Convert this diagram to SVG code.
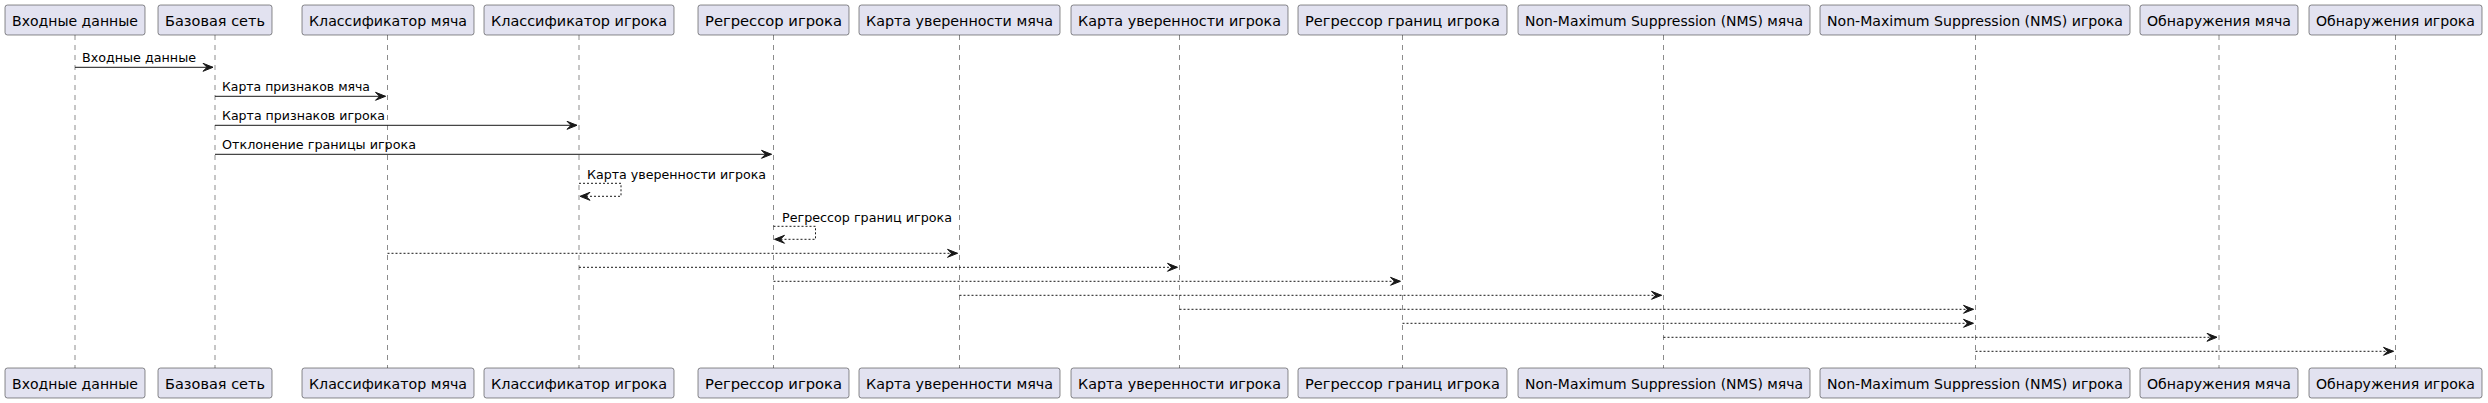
<svg xmlns="http://www.w3.org/2000/svg" width="2488" height="403" viewBox="0 0 2488 403">
<style>
.box{fill:#E2E2F0;stroke:#181818;stroke-width:0.5}
.life{stroke:#181818;stroke-width:0.5;stroke-dasharray:5,5;fill:none}
.pt{font-family:"DejaVu Sans","Liberation Sans",sans-serif;font-size:14px;fill:#000000}
.mt{font-family:"DejaVu Sans","Liberation Sans",sans-serif;font-size:13px;fill:#000000}
.msg{stroke:#181818;stroke-width:1;fill:none}
.dot{stroke:#181818;stroke-width:1;stroke-dasharray:2,2;fill:none}
.head{fill:#181818;stroke:#181818;stroke-width:1}
</style>
<rect width="2488" height="403" fill="#FFFFFF"/>
<g id="lifelines">
<line class="life" x1="75" y1="35" x2="75" y2="368"/>
<line class="life" x1="215" y1="35" x2="215" y2="368"/>
<line class="life" x1="387.5" y1="35" x2="387.5" y2="368"/>
<line class="life" x1="579" y1="35" x2="579" y2="368"/>
<line class="life" x1="773.5" y1="35" x2="773.5" y2="368"/>
<line class="life" x1="959.5" y1="35" x2="959.5" y2="368"/>
<line class="life" x1="1179.5" y1="35" x2="1179.5" y2="368"/>
<line class="life" x1="1402.5" y1="35" x2="1402.5" y2="368"/>
<line class="life" x1="1663.5" y1="35" x2="1663.5" y2="368"/>
<line class="life" x1="1975.5" y1="35" x2="1975.5" y2="368"/>
<line class="life" x1="2219" y1="35" x2="2219" y2="368"/>
<line class="life" x1="2395.5" y1="35" x2="2395.5" y2="368"/>
</g>
<g id="p1">
<rect class="box" x="5" y="5" width="140" height="30" rx="2.5"/>
<text class="pt" x="12" y="25.5" textLength="126" lengthAdjust="spacingAndGlyphs">Входные данные</text>
<rect class="box" x="5" y="368" width="140" height="30" rx="2.5"/>
<text class="pt" x="12" y="388.5" textLength="126" lengthAdjust="spacingAndGlyphs">Входные данные</text>
</g>
<g id="p2">
<rect class="box" x="158" y="5" width="114" height="30" rx="2.5"/>
<text class="pt" x="165" y="25.5" textLength="100" lengthAdjust="spacingAndGlyphs">Базовая сеть</text>
<rect class="box" x="158" y="368" width="114" height="30" rx="2.5"/>
<text class="pt" x="165" y="388.5" textLength="100" lengthAdjust="spacingAndGlyphs">Базовая сеть</text>
</g>
<g id="p3">
<rect class="box" x="302" y="5" width="172" height="30" rx="2.5"/>
<text class="pt" x="309" y="25.5" textLength="158" lengthAdjust="spacingAndGlyphs">Классификатор мяча</text>
<rect class="box" x="302" y="368" width="172" height="30" rx="2.5"/>
<text class="pt" x="309" y="388.5" textLength="158" lengthAdjust="spacingAndGlyphs">Классификатор мяча</text>
</g>
<g id="p4">
<rect class="box" x="484" y="5" width="190" height="30" rx="2.5"/>
<text class="pt" x="491" y="25.5" textLength="176" lengthAdjust="spacingAndGlyphs">Классификатор игрока</text>
<rect class="box" x="484" y="368" width="190" height="30" rx="2.5"/>
<text class="pt" x="491" y="388.5" textLength="176" lengthAdjust="spacingAndGlyphs">Классификатор игрока</text>
</g>
<g id="p5">
<rect class="box" x="698" y="5" width="151" height="30" rx="2.5"/>
<text class="pt" x="705" y="25.5" textLength="137" lengthAdjust="spacingAndGlyphs">Регрессор игрока</text>
<rect class="box" x="698" y="368" width="151" height="30" rx="2.5"/>
<text class="pt" x="705" y="388.5" textLength="137" lengthAdjust="spacingAndGlyphs">Регрессор игрока</text>
</g>
<g id="p6">
<rect class="box" x="859" y="5" width="201" height="30" rx="2.5"/>
<text class="pt" x="866" y="25.5" textLength="187" lengthAdjust="spacingAndGlyphs">Карта уверенности мяча</text>
<rect class="box" x="859" y="368" width="201" height="30" rx="2.5"/>
<text class="pt" x="866" y="388.5" textLength="187" lengthAdjust="spacingAndGlyphs">Карта уверенности мяча</text>
</g>
<g id="p7">
<rect class="box" x="1071" y="5" width="217" height="30" rx="2.5"/>
<text class="pt" x="1078" y="25.5" textLength="203" lengthAdjust="spacingAndGlyphs">Карта уверенности игрока</text>
<rect class="box" x="1071" y="368" width="217" height="30" rx="2.5"/>
<text class="pt" x="1078" y="388.5" textLength="203" lengthAdjust="spacingAndGlyphs">Карта уверенности игрока</text>
</g>
<g id="p8">
<rect class="box" x="1298" y="5" width="209" height="30" rx="2.5"/>
<text class="pt" x="1305" y="25.5" textLength="195" lengthAdjust="spacingAndGlyphs">Регрессор границ игрока</text>
<rect class="box" x="1298" y="368" width="209" height="30" rx="2.5"/>
<text class="pt" x="1305" y="388.5" textLength="195" lengthAdjust="spacingAndGlyphs">Регрессор границ игрока</text>
</g>
<g id="p9">
<rect class="box" x="1518" y="5" width="292" height="30" rx="2.5"/>
<text class="pt" x="1525" y="25.5" textLength="278" lengthAdjust="spacingAndGlyphs">Non-Maximum Suppression (NMS) мяча</text>
<rect class="box" x="1518" y="368" width="292" height="30" rx="2.5"/>
<text class="pt" x="1525" y="388.5" textLength="278" lengthAdjust="spacingAndGlyphs">Non-Maximum Suppression (NMS) мяча</text>
</g>
<g id="p10">
<rect class="box" x="1820" y="5" width="310" height="30" rx="2.5"/>
<text class="pt" x="1827" y="25.5" textLength="296" lengthAdjust="spacingAndGlyphs">Non-Maximum Suppression (NMS) игрока</text>
<rect class="box" x="1820" y="368" width="310" height="30" rx="2.5"/>
<text class="pt" x="1827" y="388.5" textLength="296" lengthAdjust="spacingAndGlyphs">Non-Maximum Suppression (NMS) игрока</text>
</g>
<g id="p11">
<rect class="box" x="2140" y="5" width="158" height="30" rx="2.5"/>
<text class="pt" x="2147" y="25.5" textLength="144" lengthAdjust="spacingAndGlyphs">Обнаружения мяча</text>
<rect class="box" x="2140" y="368" width="158" height="30" rx="2.5"/>
<text class="pt" x="2147" y="388.5" textLength="144" lengthAdjust="spacingAndGlyphs">Обнаружения мяча</text>
</g>
<g id="p12">
<rect class="box" x="2309" y="5" width="173" height="30" rx="2.5"/>
<text class="pt" x="2316" y="25.5" textLength="159" lengthAdjust="spacingAndGlyphs">Обнаружения игрока</text>
<rect class="box" x="2309" y="368" width="173" height="30" rx="2.5"/>
<text class="pt" x="2316" y="388.5" textLength="159" lengthAdjust="spacingAndGlyphs">Обнаружения игрока</text>
</g>
<g id="connectors">
<line class="msg" x1="75" y1="67.3" x2="213" y2="67.3"/>
<polygon class="head" points="203,63.3 213,67.3 203,71.3 207,67.3"/>
<text class="mt" x="82" y="61.8" textLength="114" lengthAdjust="spacingAndGlyphs">Входные данные</text>

<line class="msg" x1="215" y1="96.3" x2="385.5" y2="96.3"/>
<polygon class="head" points="375.5,92.3 385.5,96.3 375.5,100.3 379.5,96.3"/>
<text class="mt" x="222" y="90.8" textLength="148" lengthAdjust="spacingAndGlyphs">Карта признаков мяча</text>

<line class="msg" x1="215" y1="125.3" x2="577" y2="125.3"/>
<polygon class="head" points="567,121.3 577,125.3 567,129.3 571,125.3"/>
<text class="mt" x="222" y="119.8" textLength="163" lengthAdjust="spacingAndGlyphs">Карта признаков игрока</text>

<line class="msg" x1="215" y1="154.3" x2="771.5" y2="154.3"/>
<polygon class="head" points="761.5,150.3 771.5,154.3 761.5,158.3 765.5,154.3"/>
<text class="mt" x="222" y="148.8" textLength="194" lengthAdjust="spacingAndGlyphs">Отклонение границы игрока</text>

<polyline class="dot" points="579,183.3 621,183.3 621,196.3 580,196.3"/>
<polygon class="head" points="590,192.3 580,196.3 590,200.3 586,196.3"/>
<text class="mt" x="587" y="178.8" textLength="179" lengthAdjust="spacingAndGlyphs">Карта уверенности игрока</text>

<polyline class="dot" points="773.5,226.3 815.5,226.3 815.5,239.3 774.5,239.3"/>
<polygon class="head" points="784.5,235.3 774.5,239.3 784.5,243.3 780.5,239.3"/>
<text class="mt" x="782" y="221.8" textLength="170" lengthAdjust="spacingAndGlyphs">Регрессор границ игрока</text>

<line class="dot" x1="387.5" y1="253.3" x2="957.5" y2="253.3"/>
<polygon class="head" points="947.5,249.3 957.5,253.3 947.5,257.3 951.5,253.3"/>

<line class="dot" x1="579" y1="267.3" x2="1177.5" y2="267.3"/>
<polygon class="head" points="1167.5,263.3 1177.5,267.3 1167.5,271.3 1171.5,267.3"/>

<line class="dot" x1="773.5" y1="281.3" x2="1400.5" y2="281.3"/>
<polygon class="head" points="1390.5,277.3 1400.5,281.3 1390.5,285.3 1394.5,281.3"/>

<line class="dot" x1="959.5" y1="295.3" x2="1661.5" y2="295.3"/>
<polygon class="head" points="1651.5,291.3 1661.5,295.3 1651.5,299.3 1655.5,295.3"/>

<line class="dot" x1="1179.5" y1="309.3" x2="1973.5" y2="309.3"/>
<polygon class="head" points="1963.5,305.3 1973.5,309.3 1963.5,313.3 1967.5,309.3"/>

<line class="dot" x1="1402.5" y1="323.3" x2="1973.5" y2="323.3"/>
<polygon class="head" points="1963.5,319.3 1973.5,323.3 1963.5,327.3 1967.5,323.3"/>

<line class="dot" x1="1663.5" y1="337.3" x2="2217" y2="337.3"/>
<polygon class="head" points="2207,333.3 2217,337.3 2207,341.3 2211,337.3"/>

<line class="dot" x1="1975.5" y1="351.3" x2="2393.5" y2="351.3"/>
<polygon class="head" points="2383.5,347.3 2393.5,351.3 2383.5,355.3 2387.5,351.3"/>
</g>
</svg>
